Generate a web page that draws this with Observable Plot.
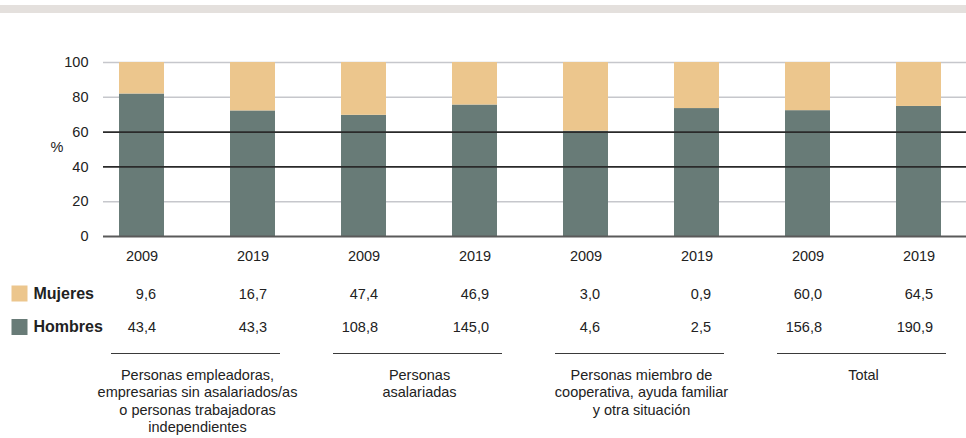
<!DOCTYPE html>
<html>
<head>
<meta charset="utf-8">
<script src="https://cdn.jsdelivr.net/npm/d3@7"></script>
<script src="https://cdn.jsdelivr.net/npm/@observablehq/plot@0.6"></script>
<style>
  html, body { margin: 0; padding: 0; background: #fff; }
  #wrap { position: relative; width: 966px; height: 438px; overflow: hidden; }
  #band { position: absolute; left: 0; top: 5px; width: 966px; height: 8px; background: #e4e0dd; }
  #chart { position: absolute; left: 0; top: 0; }
</style>
</head>
<body>
<div id="wrap"><div id="band"></div><div id="chart"></div></div>
<script>
// ---- data ----
const groups = [
  "Personas empleadoras,\nempresarias sin asalariados/as\no personas trabajadoras\nindependientes",
  "Personas\nasalariadas",
  "Personas miembro de\ncooperativa, ayuda familiar\ny otra situación",
  "Total"
];
const years = ["2009", "2019"];
const mujeres = [9.6, 16.7, 47.4, 46.9, 3.0, 0.9, 60.0, 64.5];
const hombres = [43.4, 43.3, 108.8, 145.0, 4.6, 2.5, 156.8, 190.9];
const series = ["Hombres", "Mujeres"];
const yTicks = [0, 20, 40, 60, 80, 100];

// ---- derived table ----
const cols = [];
groups.forEach((g, gi) => years.forEach((yr, yi) => {
  const i = gi * years.length + yi;
  cols.push({key: `${gi}-${yr}`, group: gi, year: yr, h: hombres[i], m: mujeres[i]});
}));
const rows = [];
cols.forEach(c => {
  const t = c.h + c.m;
  rows.push({key: c.key, sex: "Hombres", pct: c.h / t * 100});
  rows.push({key: c.key, sex: "Mujeres", pct: c.m / t * 100});
});
const groupRows = groups.map((g, gi) => ({label: g, k1: `${gi}-${years[0]}`, k2: `${gi}-${years[1]}`}));
const fmt = v => v.toFixed(1).replace(".", ",");
const FONT = "'Liberation Sans', Arial, sans-serif";
const TXT = "#222222";
const FS = 14.5;

const plot = Plot.plot({
  width: 966,
  height: 438,
  marginLeft: 103,
  marginRight: 0,
  marginTop: 62,
  marginBottom: 202,
  style: {fontFamily: FONT, fontSize: FS + "px", color: TXT, background: "transparent", overflow: "visible"},
  x: {type: "band", domain: cols.map(c => c.key), range: [86, 974], paddingInner: 0.595, paddingOuter: 0.2975, axis: null},
  y: {domain: [0, 100], axis: null},
  color: {domain: series, range: ["#687b77", "#ecc68d"]},
  marks: [
    Plot.ruleY([20, 80, 100], {stroke: "#c6c7cc", strokeWidth: 1.6}),
    Plot.barY(rows, Plot.stackY({x: "key", y: "pct", fill: "sex", order: series})),
    Plot.ruleY([40, 60], {stroke: "#2a2a2a", strokeWidth: 1.6}),
    Plot.ruleY([0], {stroke: "#5a5a5a", strokeWidth: 2}),
    Plot.axisY(yTicks, {tickSize: 0, tickPadding: 15, fontSize: FS, fill: TXT, label: null}),
    Plot.text(["%"], {frameAnchor: "left", y: [51], dx: -53, text: d => d, fill: TXT, fontSize: FS}),
    // year labels
    Plot.text(cols, {x: "key", text: "year", frameAnchor: "bottom", dy: 24.5, fill: TXT, fontSize: FS}),
    // value rows
    Plot.text(cols, {x: "key", text: d => fmt(d.m), frameAnchor: "bottom", dy: 62, dx: 14, textAnchor: "end", fill: TXT, fontSize: FS}),
    Plot.text(cols, {x: "key", text: d => fmt(d.h), frameAnchor: "bottom", dy: 95.5, dx: 14, textAnchor: "end", fill: TXT, fontSize: FS}),
    // legend swatches and labels
    Plot.dot(["Mujeres"], {frameAnchor: "bottom-left", dx: -84, dy: 57, symbol: "square", r: 9.03, fill: d => d}),
    Plot.dot(["Hombres"], {frameAnchor: "bottom-left", dx: -84, dy: 90.5, symbol: "square", r: 9.03, fill: d => d}),
    Plot.text(["Mujeres"], {frameAnchor: "bottom-left", dx: -70, dy: 62, text: d => d, textAnchor: "start", fontWeight: "bold", fontSize: 16, fill: TXT}),
    Plot.text(["Hombres"], {frameAnchor: "bottom-left", dx: -70, dy: 95.5, text: d => d, textAnchor: "start", fontWeight: "bold", fontSize: 16, fill: TXT}),
    // group underlines
    Plot.ruleY(groupRows, {y: () => 0, x1: "k1", x2: "k2", dy: 117, insetLeft: -8, insetRight: -5, stroke: "#3a3a3a", strokeWidth: 1.2}),
    // group labels
    Plot.text(groupRows, {x: "k1", text: "label", frameAnchor: "bottom", dx: 55.5, dy: 131, lineAnchor: "top", lineHeight: 1.2, fill: TXT, fontSize: FS})
  ]
});
document.getElementById("chart").appendChild(plot);
</script>
</body>
</html>
